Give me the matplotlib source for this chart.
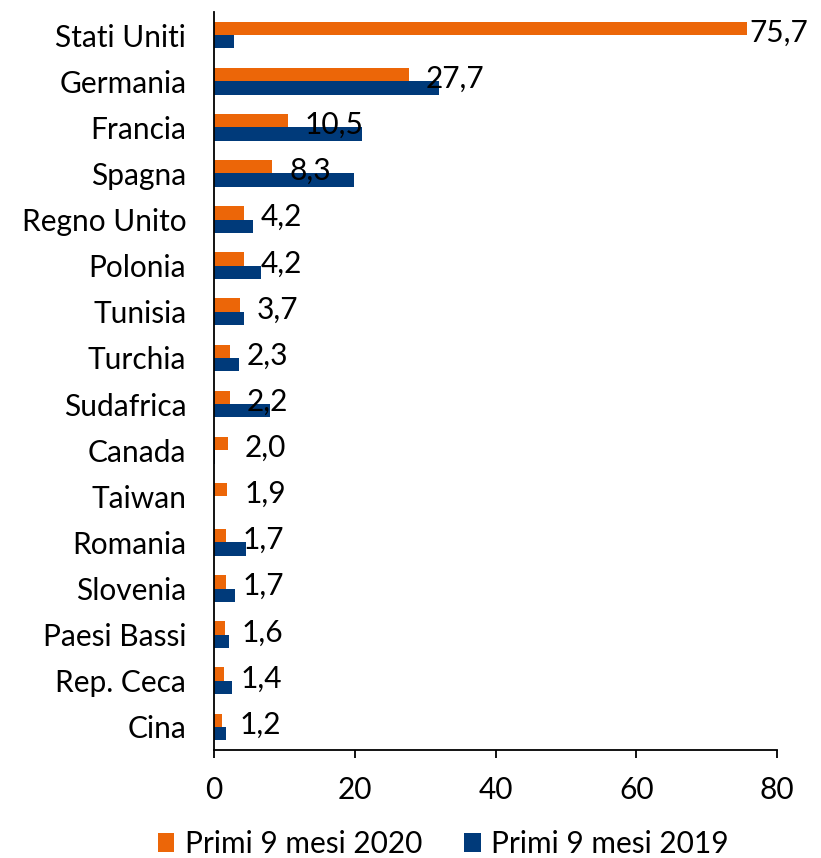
import matplotlib
matplotlib.use('Agg')
import matplotlib.pyplot as plt
import numpy as np

# Dati
paesi = ['Stati Uniti', 'Germania', 'Francia', 'Spagna', 'Regno Unito', 'Polonia',
         'Tunisia', 'Turchia', 'Sudafrica', 'Canada', 'Taiwan', 'Romania',
         'Slovenia', 'Paesi Bassi', 'Rep. Ceca', 'Cina']
valori_2020 = [75.7, 27.7, 10.5, 8.3, 4.2, 4.2, 3.7, 2.3, 2.2, 2.0, 1.9, 1.7, 1.7, 1.6, 1.4, 1.2]
valori_2019 = [2.9, 31.9, 21.0, 19.9, 5.6, 6.7, 4.3, 3.5, 7.9, 0.1, 0.05, 4.5, 3.0, 2.1, 2.6, 1.7]
etichette_serie = ['Primi 9 mesi 2020', 'Primi 9 mesi 2019']
x_ticks = [0, 20, 40, 60, 80]

ARANCIO = '#EC6608'
BLU = '#003A7A'
FS = 21.5

plt.rcParams['font.family'] = ['Lato', 'DejaVu Sans']

fig = plt.figure(figsize=(8.21, 8.58), dpi=100)
ax = fig.add_axes([0.2607, 0.1259, 0.6857, 0.8601])

y = np.arange(len(paesi))
h = 0.29
ax.barh(y - h / 2, valori_2020, height=h, color=ARANCIO, label=etichette_serie[0])
ax.barh(y + h / 2, valori_2019, height=h, color=BLU, label=etichette_serie[1])

# etichette dei valori 2020
for i, v in enumerate(valori_2020):
    off = 2 if v > 70 else 12
    ax.annotate(f'{v:.1f}'.replace('.', ','), xy=(v, i - 0.05), xytext=(off, 0),
                textcoords='offset points', ha='left', va='center',
                fontsize=FS, color='black')

ax.set_xlim(0, 80)
ax.set_ylim(len(paesi) - 0.5, -0.5)
ax.set_xticks(x_ticks)
ax.set_xticklabels([str(t) for t in x_ticks])
ax.set_yticks(y)
ax.set_yticklabels(paesi)

ax.tick_params(axis='x', length=6, width=1.3, pad=13, labelsize=FS, direction='out')
ax.tick_params(axis='y', length=0, pad=20, labelsize=FS)
ax.spines[['top', 'right']].set_visible(False)
for s in ['left', 'bottom']:
    ax.spines[s].set_linewidth(1.3)

fig.legend(loc='center', bbox_to_anchor=(0.54, 0.016), ncol=2, frameon=False,
           fontsize=FS, handlelength=0.55, handleheight=0.6, handletextpad=0.35,
           columnspacing=1.4, borderpad=0)

fig.savefig('out.png', dpi=100)
